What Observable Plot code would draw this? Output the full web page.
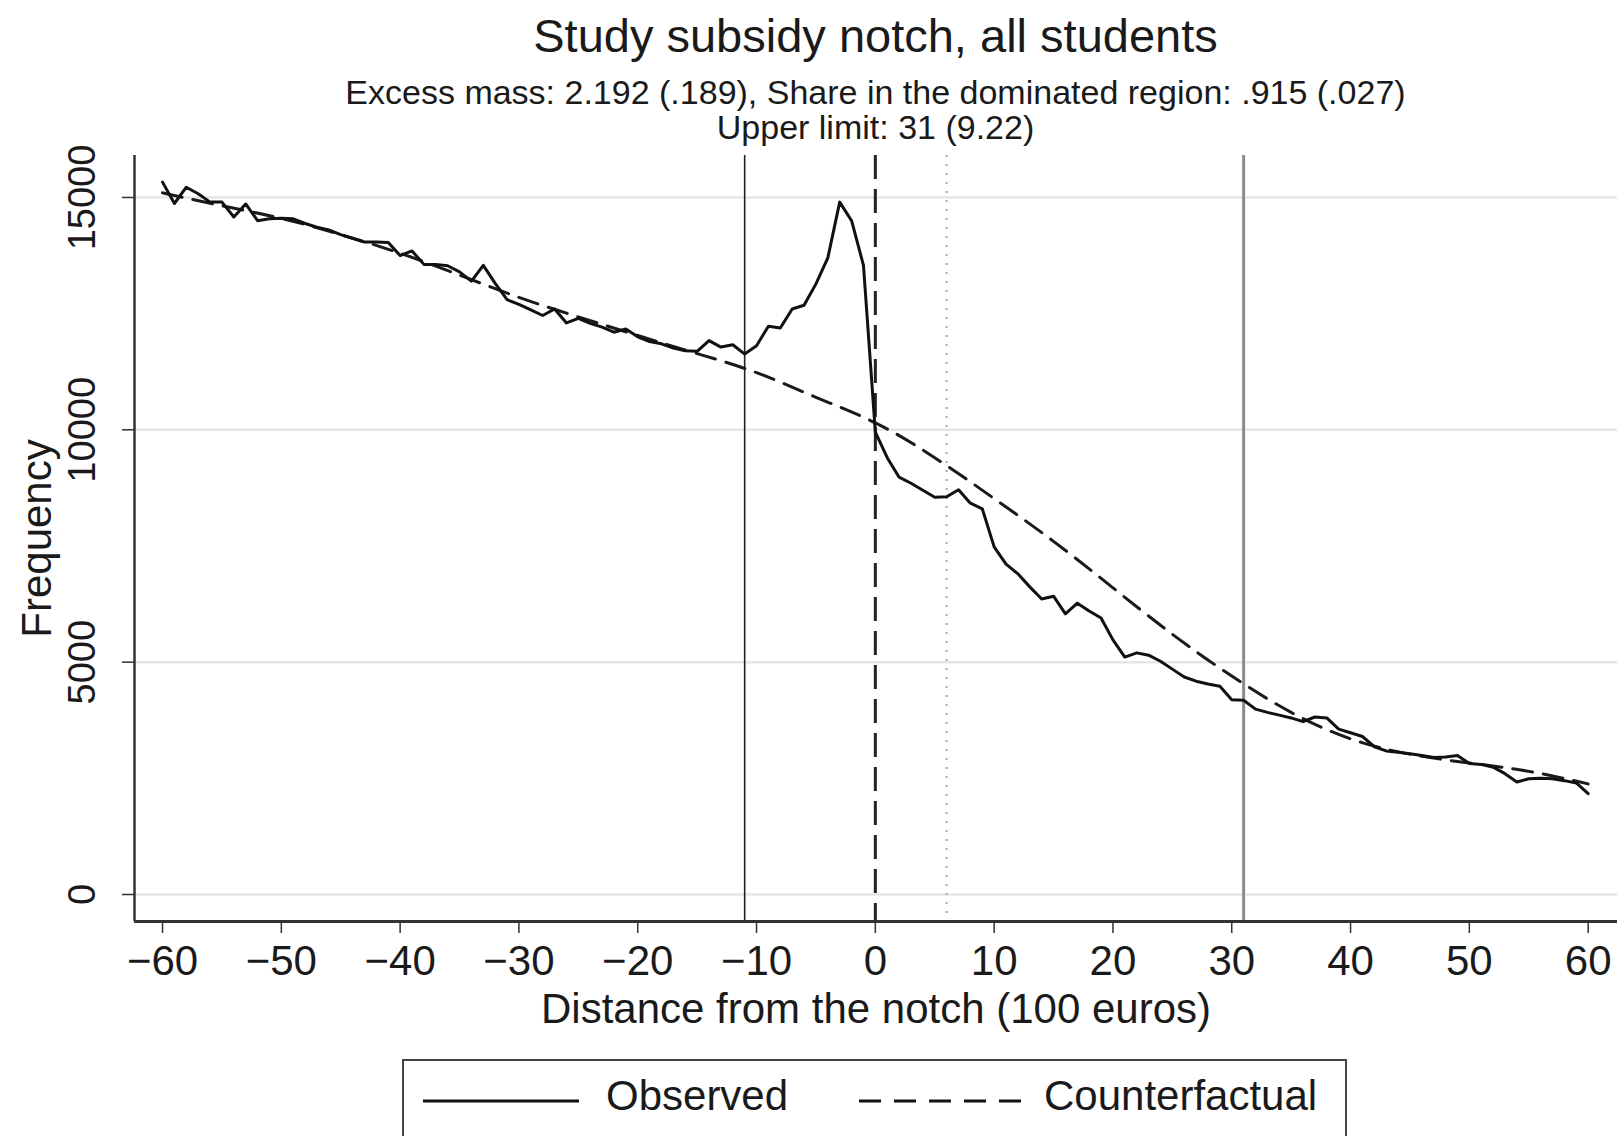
<!DOCTYPE html>
<html>
<head>
<meta charset="utf-8">
<script src="https://cdn.jsdelivr.net/npm/d3@7"></script>
<script src="https://cdn.jsdelivr.net/npm/@observablehq/plot@0.6"></script>
<style>
  html, body { margin: 0; padding: 0; background: #fff; }
  #wrap { position: relative; width: 1617px; height: 1136px; overflow: hidden; background: #fff;
          font-family: "Liberation Sans", Arial, Helvetica, sans-serif; color: #1a1a1a; }
  .hdr { position: absolute; left: 134px; width: 1483px; text-align: center; white-space: nowrap; }
  #chart { position: absolute; left: 0; top: 150px; }
  #legend { position: absolute; left: 402px; top: 1059px; width: 945px; height: 120px;
            border: 2px solid #444; box-sizing: border-box; }
  #legend .lab { position: absolute; top: 10px; font-size: 42px; line-height: 50px; }
  #legend svg { position: absolute; }
</style>
</head>
<body>
<div id="wrap">
  <div class="hdr" style="top:7px;font-size:47px;line-height:58px;">Study subsidy notch, all students</div>
  <div class="hdr" style="top:74px;font-size:34px;line-height:36px;">Excess mass: 2.192 (.189), Share in the dominated region: .915 (.027)</div>
  <div class="hdr" style="top:109px;font-size:34px;line-height:36px;">Upper limit: 31 (9.22)</div>
  <div id="chart"></div>
  <div id="legend">
    <svg style="left:19px;top:30px" width="156" height="20"><line x1="0" x2="156" y1="10" y2="10" stroke="#111" stroke-width="3"/></svg>
    <div class="lab" style="left:202px;">Observed</div>
    <svg style="left:455px;top:30px" width="162" height="20"><line x1="0" x2="162" y1="10" y2="10" stroke="#111" stroke-width="3" stroke-dasharray="22,13"/></svg>
    <div class="lab" style="left:640px;">Counterfactual</div>
  </div>
</div>
<script>
// ---- data ----
const binX = d3.range(-60, 61);
const observed = [
  15330, 14870, 15220, 15080, 14900, 14900, 14580, 14860, 14500, 14540,
  14550, 14540, 14440, 14360, 14300, 14200, 14120, 14040, 14040, 14030,
  13750, 13850, 13560, 13560, 13530, 13400, 13200, 13540, 13150, 12800,
  12700, 12580, 12460, 12600, 12300, 12400, 12290, 12210, 12100, 12170,
  12000, 11900, 11850, 11760, 11700, 11690, 11920, 11780, 11830, 11630,
  11810, 12230, 12190, 12600, 12680, 13140, 13700, 14900, 14500, 13540,
  9950,
  9400, 8980, 8850, 8700, 8550, 8560, 8710, 8420, 8300, 7480,
  7110, 6900, 6620, 6360, 6420, 6040, 6270, 6100, 5950, 5480,
  5110, 5200, 5150, 5020, 4850, 4680, 4590, 4530, 4480, 4190,
  4180, 3990, 3920, 3860, 3800, 3720, 3820, 3800, 3560, 3480,
  3400, 3180, 3090, 3060, 3030, 2990, 2950, 2960, 2990, 2820,
  2800, 2740, 2600, 2420, 2490, 2500, 2490, 2450, 2400, 2170
];
const cfX = [-60, -55, -50, -45, -40, -35, -30, -25, -20, -15, -10, -5, 0, 5, 10, 15, 20, 25, 30, 35, 40, 45, 50, 55, 60];
const counterfactual = [15100, 14820, 14550, 14200, 13800, 13330, 12850, 12430, 12030, 11640, 11230, 10700, 10150, 9400, 8520, 7600, 6600, 5600, 4700, 3920, 3350, 3020, 2830, 2650, 2380];
const xTicks = [-60, -50, -40, -30, -20, -10, 0, 10, 20, 30, 40, 50, 60];
const yTicks = [0, 5000, 10000, 15000];
const lowerLimit = [-11];
const notch = [0];
const dottedRef = [6];
const upperLimit = [31];

const obsData = binX.map((x, i) => ({x, y: observed[i]}));
const cfData = cfX.map((x, i) => ({x, y: counterfactual[i]}));

const xDomain = [-62.36, 62.47];
const yDomain = [-581, 15903];

const chart = Plot.plot({
  width: 1617,
  height: 890,
  marginLeft: 134,
  marginRight: 0,
  marginTop: 5,
  marginBottom: 119,
  style: { fontFamily: '"Liberation Sans", Arial, Helvetica, sans-serif', color: "#1a1a1a", background: "#fff", overflow: "visible" },
  x: { domain: xDomain },
  y: { domain: yDomain },
  marks: [
    Plot.ruleY(yTicks, { stroke: "#e6e6e6", strokeWidth: 2.5 }),
    Plot.ruleX(dottedRef, { stroke: "#a8a8a8", strokeWidth: 2, strokeDasharray: "2,7" }),
    Plot.ruleX(upperLimit, { stroke: "#8c8c8c", strokeWidth: 3 }),
    Plot.ruleX(lowerLimit, { stroke: "#222", strokeWidth: 1.6 }),
    Plot.ruleX(notch, { stroke: "#222", strokeWidth: 3, strokeDasharray: "24,10" }),
    Plot.line(cfData, { x: "x", y: "y", stroke: "#1a1a1a", strokeWidth: 3, strokeDasharray: "20,11", curve: "natural" }),
    Plot.line(obsData, { x: "x", y: "y", stroke: "#111", strokeWidth: 3, strokeLinejoin: "round" }),
    Plot.ruleX([xDomain[0]], { stroke: "#333", strokeWidth: 2.5 }),
    Plot.ruleY([yDomain[0]], { stroke: "#333", strokeWidth: 3 }),
    Plot.axisX(xTicks, { tickSize: 12, tickPadding: 12, fontSize: 42, stroke: "#333", strokeWidth: 1.5,
      tickFormat: d => d < 0 ? "\u2212" + Math.abs(d) : String(d), label: null }),
    Plot.axisY(yTicks, { tickSize: 12, tickFormat: () => "", stroke: "#333", strokeWidth: 1.5, label: null }),
    Plot.text(yTicks, { y: d => d, text: d => String(d), frameAnchor: "left", textAnchor: "middle", dx: -52, rotate: -90, fontSize: 38, fill: "#1a1a1a" }),
    Plot.text(["Frequency"], { frameAnchor: "left", textAnchor: "middle", dx: -97, rotate: -90, fontSize: 42, fill: "#1a1a1a" }),
    Plot.text(["Distance from the notch (100 euros)"], { frameAnchor: "bottom", dy: 101, fontSize: 42, fill: "#1a1a1a" })
  ]
});
document.getElementById("chart").appendChild(chart);
</script>
</body>
</html>
